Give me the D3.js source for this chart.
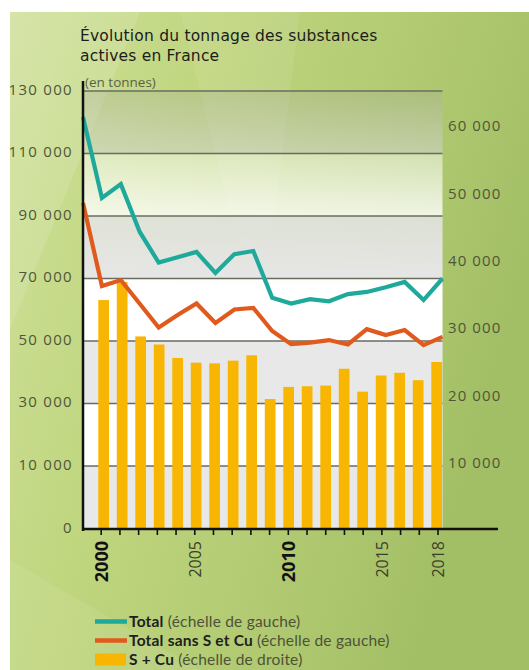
<!DOCTYPE html>
<html>
<head>
<meta charset="utf-8">
<script src="https://cdn.jsdelivr.net/npm/d3@7"></script>
<style>
  html, body { margin: 0; padding: 0; background: #ffffff; }
  svg { display: block; }
  text { font-family: "Open Sans", Lato, sans-serif; }
</style>
</head>
<body>
<svg id="chart" width="529" height="670"></svg>
<script>
// ---------- data ----------
const titleLines = ["Évolution du tonnage des substances", "actives en France"];
const unitLabel = "(en tonnes)";

// bars: S + Cu (right scale), one per year 2000-2018
const barYears = [2000,2001,2002,2003,2004,2005,2006,2007,2008,2009,2010,2011,2012,2013,2014,2015,2016,2017,2018];
const sCu = [34000,36700,28600,27400,25400,24700,24600,25000,25800,19300,21100,21200,21300,23800,20400,22800,23200,22100,24800];

// lines (left scale): 20 points spanning the plot width
const lineYears = [1999,2000,2001,2002,2003,2004,2005,2006,2007,2008,2009,2010,2011,2012,2013,2014,2015,2016,2017,2018];
const total = [121700,95800,100200,84900,75100,76800,78500,71800,77800,78800,63800,62000,63400,62700,65000,65700,67200,68900,63100,70000];
const totalSansSCu = [94200,67600,69500,61900,54300,58300,62000,55800,60100,60600,53200,49000,49500,50300,48900,53800,51900,53500,48700,51300];

// axes
const leftTicks = [0,10000,30000,50000,70000,90000,110000,130000];
const rightTicks = [10000,20000,30000,40000,50000,60000];
const tickYears = [2000,2001,2002,2003,2004,2005,2006,2007,2008,2009,2010,2011,2012,2013,2014,2015,2016,2017,2018];
const labelYears = [2000,2005,2010,2015,2018];
const boldYears = [2000,2010];

const legendItems = [
  {key:"total", strong:"Total", rest:" (échelle de gauche)"},
  {key:"sans", strong:"Total sans S et Cu", rest:" (échelle de gauche)"},
  {key:"scu", strong:"S + Cu", rest:" (échelle de droite)"}
];

// ---------- styles ----------
const C = {
  teal: "#1ea99b",
  orange: "#e05a1d",
  yellow: "#f8b602",
  grid: "#6a6c60",
  axisText: "#4f5638",
  title: "#1c1c1c"
};

const fmt = v => d3.format(",")(v).replace(/,/g, " ");

// ---------- scales ----------
const plotL = 83, plotR = 442.5, plotT = 91, plotB = 529;
const yL = d3.scaleLinear().domain([0,10000,130000]).range([plotB,466,plotT]);
const yR = d3.scaleLinear().domain([0,60000]).range([plotB,125]);
const xTick = d3.scaleLinear().domain([1999,2018]).range([82.5,438]);
const xBar = d3.scaleBand().domain(barYears).range([94.4,445.9]).paddingInner(0.42).paddingOuter(0.21);
const xLine = d3.scalePoint().domain(lineYears).range([plotL, plotR]);

const svg = d3.select("#chart");
const defs = svg.append("defs");

// background gradient
const bg = defs.append("linearGradient").attr("id","bg").attr("x1","0").attr("y1","0").attr("x2","1").attr("y2","0.35");
bg.append("stop").attr("offset","0").attr("stop-color","#d0e19c");
bg.append("stop").attr("offset","0.35").attr("stop-color","#c0d67f");
bg.append("stop").attr("offset","0.75").attr("stop-color","#b0c971");
bg.append("stop").attr("offset","1").attr("stop-color","#a3bf66");

const wash = defs.append("linearGradient").attr("id","wash").attr("gradientUnits","userSpaceOnUse")
  .attr("x1",0).attr("y1",plotT).attr("x2",0).attr("y2",plotB);
wash.append("stop").attr("offset","0").attr("stop-color","#ffffff").attr("stop-opacity",0.1);
wash.append("stop").attr("offset","0.3").attr("stop-color","#ffffff").attr("stop-opacity",0.85);
wash.append("stop").attr("offset","0.45").attr("stop-color","#ffffff").attr("stop-opacity",1);
wash.append("stop").attr("offset","1").attr("stop-color","#ffffff").attr("stop-opacity",1);

svg.append("rect").attr("x",10).attr("y",12).attr("width",519).attr("height",658).attr("fill","url(#bg)");
// faint lighter facets
svg.append("path").attr("d","M10,12 L140,12 L10,330 Z").attr("fill","#ffffff").attr("opacity",0.12);
svg.append("path").attr("d","M180,12 L300,12 L260,330 Z").attr("fill","#ffffff").attr("opacity",0.08);
svg.append("path").attr("d","M10,560 L200,670 L10,670 Z").attr("fill","#ffffff").attr("opacity",0.08);

// plot background
svg.append("rect").attr("x",plotL).attr("y",plotT).attr("width",plotR-plotL).attr("height",plotB-plotT).attr("fill","url(#wash)");
const bands = [[110000,130000],[70000,90000],[30000,50000],[0,10000]];
svg.append("g").selectAll("rect").data(bands).join("rect")
  .attr("x",plotL).attr("width",plotR-plotL)
  .attr("y",d=>yL(d[1])).attr("height",d=>yL(d[0])-yL(d[1]))
  .attr("fill","#707070").attr("opacity",0.16);

// gridlines
svg.append("g").selectAll("line").data(leftTicks.filter(d=>d>0)).join("line")
  .attr("x1",plotL).attr("x2",plotR).attr("y1",d=>yL(d)).attr("y2",d=>yL(d))
  .attr("stroke",C.grid).attr("stroke-width",1.4);

// bars
svg.append("g").selectAll("rect").data(barYears).join("rect")
  .attr("x",d=>xBar(d)).attr("width",xBar.bandwidth())
  .attr("y",(d,i)=>yR(sCu[i])).attr("height",(d,i)=>yR(0)-yR(sCu[i]))
  .attr("fill",C.yellow);

// lines
const mkLine = arr => d3.line().x((d,i)=>xLine(lineYears[i])).y(d=>yL(d))(arr);
svg.append("path").attr("d",mkLine(totalSansSCu)).attr("fill","none").attr("stroke",C.orange)
  .attr("stroke-width",4.2).attr("stroke-linejoin","miter");
svg.append("path").attr("d",mkLine(total)).attr("fill","none").attr("stroke",C.teal)
  .attr("stroke-width",4.2).attr("stroke-linejoin","miter");

// axes lines
svg.append("line").attr("x1",plotL).attr("x2",plotL).attr("y1",81).attr("y2",plotB+2).attr("stroke","#111").attr("stroke-width",2.5);
svg.append("line").attr("x1",plotL-1).attr("x2",498).attr("y1",plotB).attr("y2",plotB).attr("stroke","#111").attr("stroke-width",2.5);
svg.append("g").selectAll("line").data(tickYears).join("line")
  .attr("x1",d=>xTick(d)).attr("x2",d=>xTick(d)).attr("y1",plotB).attr("y2",plotB+6)
  .attr("stroke","#111").attr("stroke-width",1.6);

// x labels
svg.append("g").selectAll("text").data(labelYears).join("text")
  .attr("transform",d=>`translate(${xTick(d)},541) rotate(-90)`)
  .attr("text-anchor","end").attr("dy","0.36em")
  .attr("font-size",d=>boldYears.includes(d)?18:16)
  .attr("font-weight",d=>boldYears.includes(d)?700:400)
  .attr("fill",d=>boldYears.includes(d)?"#111":"#3a3f2a")
  .text(d=>d);

// left labels
svg.append("g").selectAll("text").data(leftTicks).join("text")
  .attr("x",73).attr("y",d=>yL(d)-1.5).attr("dy","0.35em").attr("text-anchor","end")
  .attr("font-size",15).attr("letter-spacing","1.3px").attr("fill",C.axisText)
  .text(d=>fmt(d));

// right labels
svg.append("g").selectAll("text").data(rightTicks).join("text")
  .attr("x",448).attr("y",d=>yR(d)+1).attr("dy","0.35em").attr("text-anchor","start")
  .attr("font-size",15).attr("letter-spacing","1.1px").attr("fill",C.axisText)
  .text(d=>fmt(d));

// title
svg.append("g").selectAll("text").data(titleLines).join("text")
  .attr("x",80).attr("y",(d,i)=>41+i*19.7)
  .style("font-family","'DejaVu Sans', sans-serif")
  .attr("font-size",15.5).attr("letter-spacing","0.2px").attr("fill",C.title).text(d=>d);
svg.append("text").attr("x",85).attr("y",87).attr("font-size",13.5).attr("fill","#5a5f48").text(unitLabel);

// legend
const lg = svg.append("g");
const rowY = [627,646,665];
legendItems.forEach((it,i)=>{
  const cy = rowY[i]-5.5;
  if (it.key==="scu") {
    lg.append("rect").attr("x",95).attr("y",cy-6).attr("width",31).attr("height",12).attr("fill",C.yellow);
  } else {
    lg.append("line").attr("x1",95).attr("x2",127).attr("y1",cy).attr("y2",cy)
      .attr("stroke",it.key==="total"?C.teal:C.orange).attr("stroke-width",4.5);
  }
  const t = lg.append("text").attr("x",129).attr("y",rowY[i]).attr("font-size",15.5)
    .style("font-family","Lato, sans-serif").attr("letter-spacing","0.2px");
  t.append("tspan").attr("fill","#1e1e1e").attr("font-weight",700).text(it.strong);
  t.append("tspan").attr("fill","#4d5238").text(it.rest);
});
</script>
</body>
</html>
